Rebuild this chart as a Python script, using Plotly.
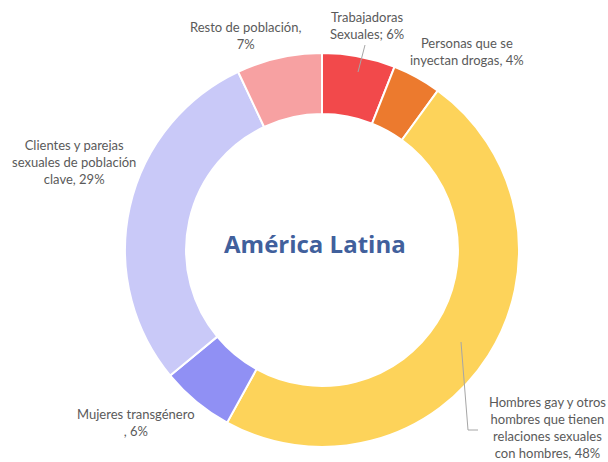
import plotly.graph_objects as go

# Population groups and their share of new infections
categories = [
    "Trabajadoras Sexuales",
    "Personas que se inyectan drogas",
    "Hombres gay y otros hombres que tienen relaciones sexuales con hombres",
    "Mujeres transgénero",
    "Clientes y parejas sexuales de población clave",
    "Resto de población",
]
values = [6, 4, 48, 6, 29, 7]
label_texts = [
    "Trabajadoras<br>Sexuales; 6%",
    "Personas que se<br>inyectan drogas, 4%",
    "Hombres gay y otros<br>hombres que tienen<br>relaciones sexuales<br>con hombres, 48%",
    "Mujeres transgénero<br>, 6%",
    "Clientes y parejas<br>sexuales de población<br>clave, 29%",
    "Resto de población,<br>7%",
]
colors = ["#F2494B", "#EC7A2E", "#FDD35A", "#9090F4", "#C9C9F8", "#F7A1A2"]
center_title = "América Latina"

W, H = 608, 462

def px(x):
    return x / W

def py(y):
    return 1 - y / H

fig = go.Figure()
fig.add_trace(go.Pie(
    labels=categories,
    values=values,
    hole=0.69,
    sort=False,
    direction="clockwise",
    rotation=0,
    textinfo="none",
    hoverinfo="label+percent",
    marker=dict(colors=colors, line=dict(color="white", width=2)),
    domain=dict(x=[px(125), px(519)], y=[py(447), py(53)]),
    showlegend=False,
))

# Label placement (pixel centres) for each slice
label_pos = [
    (367, 26),
    (467, 52),
    (547, 427),
    (136, 422),
    (74, 162),
    (245, 35),
]
font = dict(family="Lato, Open Sans, sans-serif", size=13, color="#5A5A5A")
for txt, (x, y) in zip(label_texts, label_pos):
    fig.add_annotation(
        x=px(x), y=py(y), xref="paper", yref="paper",
        text=txt, showarrow=False, font=font, align="center",
        xanchor="center", yanchor="middle",
    )

# Leader lines
fig.add_shape(type="line", xref="paper", yref="paper",
              x0=px(365), y0=py(45), x1=px(358), y1=py(72),
              line=dict(color="#A6A6A6", width=1))
fig.add_shape(type="path", xref="paper", yref="paper",
              path=f"M {px(461)} {py(342)} L {px(468)} {py(430)} L {px(478)} {py(430)}",
              line=dict(color="#A6A6A6", width=1))

# Centre title
fig.add_annotation(
    x=px(315), y=py(243), xref="paper", yref="paper",
    text=f"<b>{center_title}</b>", showarrow=False,
    font=dict(family="Open Sans, Lato, sans-serif", size=24, color="#41609C"),
    xanchor="center", yanchor="middle",
)

fig.update_layout(
    width=W, height=H,
    margin=dict(l=0, r=0, t=0, b=0),
    paper_bgcolor="white",
    plot_bgcolor="white",
)

fig.write_html("out.html")
